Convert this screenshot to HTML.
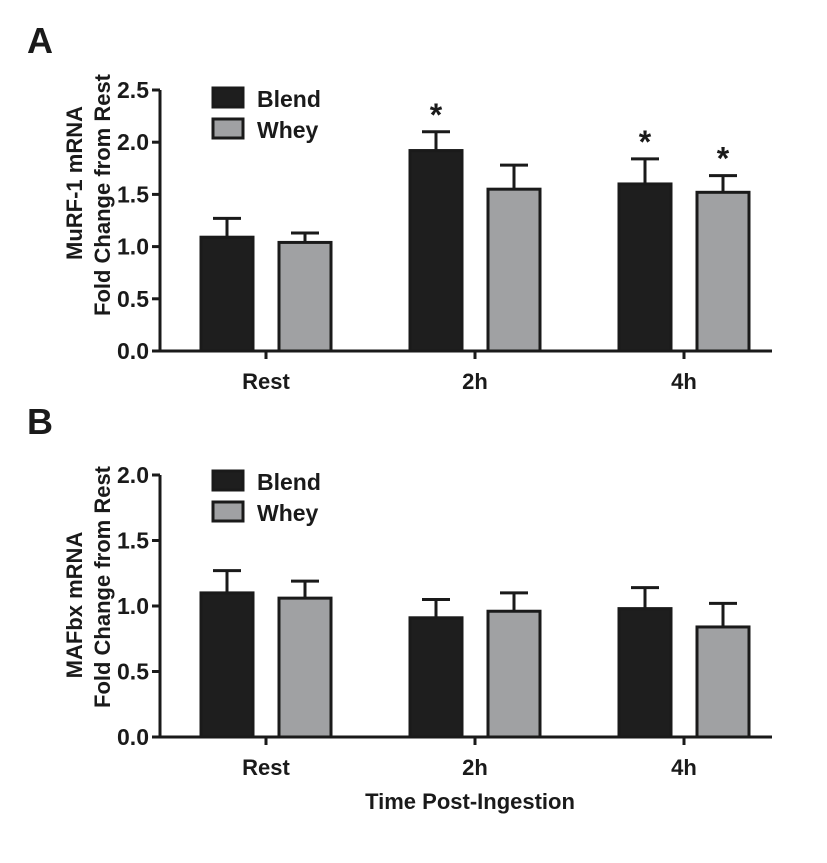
<!DOCTYPE html>
<html><head><meta charset="utf-8"><style>
body{margin:0;background:#fff}
text{font-family:"Liberation Sans",Arial,sans-serif;font-weight:bold;fill:#1a1a1a}
</style></head><body>
<svg id="c" width="827" height="858" xmlns="http://www.w3.org/2000/svg">
<text x="27" y="53" font-size="36">A</text>
<text x="27" y="434" font-size="36">B</text>
<text x="470" y="809" font-size="22" text-anchor="middle">Time Post-Ingestion</text>
</svg>
<script>
const categories=["Rest","2h","4h"];
const series=["Blend","Whey"];
const aBlend=[1.09,1.92,1.60], aBlendErr=[0.18,0.18,0.24];
const aWhey=[1.04,1.55,1.52], aWheyErr=[0.09,0.23,0.16];
const aStar=[[false,false],[true,false],[true,true]];
const aTicks=["0.0","0.5","1.0","1.5","2.0","2.5"];
const bBlend=[1.10,0.91,0.98], bBlendErr=[0.17,0.14,0.16];
const bWhey=[1.06,0.96,0.84], bWheyErr=[0.13,0.14,0.18];
const bTicks=["0.0","0.5","1.0","1.5","2.0"];
const svg=document.getElementById('c');
const NS='http://www.w3.org/2000/svg';
function mk(t,a,p){const e=document.createElementNS(NS,t);for(const k in a)e.setAttribute(k,a[k]);(p||svg).appendChild(e);return e;}
function panel(id,y0,pxPerUnit,ticks,blend,bErr,whey,wErr,stars,t1,t2,legY,c1,c2){
  const g=mk('g',{});
  
  
  const yS=v=>y0-v*pxPerUnit;
  const xS=i=>266+i*209;
  const maxV=parseFloat(ticks[ticks.length-1]);
  const ax=mk('path',{d:`M160 ${yS(maxV)} V${y0} H772`,stroke:'#1a1a1a','stroke-width':3,fill:'none'},g);
  
  
  ticks.forEach(t=>{const v=parseFloat(t);const y=yS(v);
    const tk=mk('line',{x1:152,x2:160,y1:y,y2:y,stroke:'#1a1a1a','stroke-width':3},g);
    
    
    const tl=mk('text',{x:149,y:y+8,'font-size':23,'text-anchor':'end'},g);tl.textContent=t;
    
    
  });
  categories.forEach((c,i)=>{const x=xS(i);
    const tk=mk('line',{x1:x,x2:x,y1:y0,y2:y0+8,stroke:'#1a1a1a','stroke-width':3},g);
    
    
    const tl=mk('text',{x:x,y:y0+38,'font-size':22,'text-anchor':'middle'},g);tl.textContent=c;
    
    
    [[blend,bErr,'#1e1e1e',-39,0],[whey,wErr,'#a0a1a3',39,1]].forEach(([vals,err,col,off,s])=>{
      const cx=x+off,top=yS(vals[i]),et=yS(vals[i]+err[i]);
      const eb=mk('path',{d:`M${cx} ${top} V${et} M${cx-14} ${et} H${cx+14}`,stroke:'#1a1a1a','stroke-width':3,fill:'none'},g);
      
      
      const r=mk('rect',{x:cx-26,y:top,width:52,height:y0-top,fill:col,stroke:'#1a1a1a','stroke-width':3},g);
      
      
      if(stars&&stars[i][s]){const st=mk('text',{x:cx,y:et-6,'font-size':32,'text-anchor':'middle'},g);st.textContent='*';
        
        }
    });
  });
  const yt=mk('text',{transform:'translate(82,'+c1+') rotate(-90)','font-size':22,'text-anchor':'middle'},g);yt.textContent=t1;
  
  
  const yt2=mk('text',{transform:'translate(110,'+c2+') rotate(-90)','font-size':22,'text-anchor':'middle'},g);yt2.textContent=t2;
  
  
  series.forEach((s,k)=>{const y=legY+k*31;
    const lr=mk('rect',{x:213,y:y,width:30,height:19,fill:k?'#a0a1a3':'#1e1e1e',stroke:'#1a1a1a','stroke-width':3},g);
    
    
    const lt=mk('text',{x:257,y:y+19,'font-size':23},g);lt.textContent=s;
    
    
  });
}
panel('panel-a',351,104.4,aTicks,aBlend,aBlendErr,aWhey,aWheyErr,aStar,'MuRF-1 mRNA','Fold Change from Rest',88,183,195);
panel('panel-b',737,131,bTicks,bBlend,bBlendErr,bWhey,bWheyErr,null,'MAFbx mRNA','Fold Change from Rest',471,605,587);
</script>
</body></html>
